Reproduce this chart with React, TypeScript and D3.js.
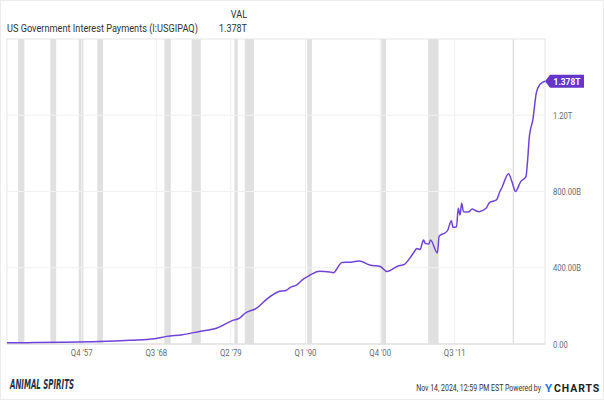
import * as d3 from "d3";
import React from "react";

// quarterly-ish readings of the series (billions of USD)
const dates = [
  "1947-04-01", "1950-01-01", "1955-01-01", "1960-07-01", "1965-01-01", "1968-07-01",
  "1970-04-01", "1972-07-01", "1975-01-01", "1977-07-01", "1979-10-01", "1980-10-01",
  "1981-07-01", "1983-04-01", "1984-10-01", "1986-04-01", "1987-07-01", "1988-01-01",
  "1989-01-01", "1989-10-01", "1990-10-01", "1992-04-01", "1993-10-01", "1994-04-01",
  "1995-07-01", "1996-10-01", "1998-01-01", "1999-07-01", "2001-01-01", "2002-01-01",
  "2003-07-01", "2004-07-01", "2005-04-01", "2006-01-01", "2006-04-01", "2006-10-01",
  "2007-04-01", "2007-07-01", "2008-01-01", "2008-04-01", "2009-04-01", "2009-07-01",
  "2010-01-01", "2010-04-01", "2010-10-01", "2011-04-01", "2011-07-01", "2012-01-01",
  "2012-04-01", "2012-07-01", "2012-10-01", "2013-01-01", "2013-10-01", "2014-04-01",
  "2014-10-01", "2015-04-01", "2016-04-01", "2016-10-01", "2017-10-01", "2018-04-01",
  "2018-07-01", "2019-07-01", "2020-01-01", "2020-07-01", "2021-04-01", "2022-01-01",
  "2022-04-01", "2022-07-01", "2023-01-01", "2023-07-01", "2024-01-01", "2024-09-30",
];
const valuesB = [
  6, 7, 9, 13, 20, 28,
  40, 49, 66, 84, 124, 136,
  160, 189, 238, 273, 282, 296,
  310, 335, 358, 382, 378, 374,
  428, 429, 436, 414, 407, 380,
  408, 418, 449, 489, 501, 496,
  545, 528, 524, 545, 478, 566,
  577, 580, 598, 647, 612, 615,
  712, 677, 738, 694, 693, 708,
  700, 694, 712, 742, 756, 800,
  817, 893, 850, 800, 852, 878,
  966, 1089, 1177, 1317, 1361, 1378,
];

const recessionStarts = [
  "1948-11-01", "1953-07-01", "1957-08-01", "1960-04-01", "1969-12-01", "1973-11-01",
  "1980-01-01", "1981-07-01", "1990-07-01", "2001-03-01", "2007-12-01", "2020-02-01",
];
const recessionEnds = [
  "1949-10-01", "1954-05-01", "1958-04-01", "1961-02-01", "1970-11-01", "1975-03-01",
  "1980-07-01", "1982-11-01", "1991-03-01", "2001-11-01", "2009-06-01", "2020-04-01",
];

const tickDates = ["1957-12-31", "1968-09-30", "1979-06-30", "1990-03-31", "2000-12-31", "2011-09-30"];
const tickLabels = ["Q4 '57", "Q3 '68", "Q2 '79", "Q1 '90", "Q4 '00", "Q3 '11"];

const yTicks = [0, 400, 800, 1200];
const yTickLabels = ["0.00", "400.00B", "800.00B", "1.20T"];

const parse = d3.timeParse("%Y-%m-%d");
const FONT = "Roboto, 'Noto Sans', sans-serif";

// narrow text, like the condensed face of the original
function T(props: {
  x: number;
  y: number;
  size: number;
  fill?: string;
  anchor?: "start" | "middle" | "end";
  weight?: string;
  sx?: number;
  spacing?: number;
  children: React.ReactNode;
}) {
  const sx = props.sx ?? 0.86;
  return (
    <text
      transform={`translate(${props.x},${props.y}) scale(${sx},1)`}
      fontSize={props.size}
      fill={props.fill ?? "#333"}
      textAnchor={props.anchor ?? "start"}
      fontWeight={props.weight ?? "normal"}
      letterSpacing={props.spacing ?? 0}
    >
      {props.children}
    </text>
  );
}

export default function App() {
  const W = 604;
  const H = 400;
  const left = 7, right = 545, top = 39, bottom = 344;

  const x = d3
    .scaleTime()
    .domain([parse("1947-03-31")!, parse("2024-09-30")!])
    .range([left, right]);
  const y = d3.scaleLinear().domain([0, 1600]).range([bottom, top]);

  const data = dates.map((d, i) => ({ date: parse(d)!, v: valuesB[i] }));
  const line = d3
    .line<{ date: Date; v: number }>()
    .x((d) => x(d.date))
    .y((d) => y(d.v))
    .curve(d3.curveMonotoneX);

  const last = data[data.length - 1];
  const ly = y(last.v);
  const lx = x(last.date);

  return (
    <svg
      width={W}
      height={H}
      style={{ position: "absolute", left: 0, top: 0, background: "#fff" }}
      fontFamily={FONT}
    >
      <rect x={0.5} y={0.5} width={W - 1} height={H - 1} fill="none" stroke="#ececec" />

      <T x={247} y={18} size={10.5} anchor="end">VAL</T>
      <T x={7} y={32} size={10.5} sx={0.875}>US Government Interest Payments (I:USGIPAQ)</T>
      <T x={247} y={32} size={10.5} anchor="end">1.378T</T>

      {recessionStarts.map((s, i) => {
        const x0 = x(parse(s)!);
        const x1 = x(parse(recessionEnds[i])!);
        return (
          <rect key={s} x={x0} y={top} width={Math.max(1.5, x1 - x0)} height={bottom - top} fill="#e0e0e0" />
        );
      })}

      {yTicks.slice(1).map((t) => (
        <line key={t} x1={left} x2={right} y1={y(t)} y2={y(t)} stroke="#f0f0f0" />
      ))}
      {tickDates.map((t) => (
        <line key={t} x1={x(parse(t)!)} x2={x(parse(t)!)} y1={top} y2={bottom} stroke="#f0f0f0" />
      ))}

      <rect x={left} y={top} width={right - left} height={bottom - top} fill="none" stroke="#e6e6e6" />
      <line x1={left} x2={right} y1={bottom} y2={bottom} stroke="#dcdcdc" />

      <path d={line(data) ?? ""} fill="none" stroke="#7044d8" strokeWidth={1.5} strokeLinejoin="round" />

      {yTicks.map((t, i) => (
        <T key={t} x={553} y={y(t) + 3.5} size={9.5} fill="#6b6b6b" sx={0.8}>{yTickLabels[i]}</T>
      ))}
      {tickDates.map((t, i) => (
        <T key={t} x={x(parse(t)!)} y={356} size={9.5} anchor="middle" fill="#6b6b6b" sx={0.82}>
          {tickLabels[i]}
        </T>
      ))}

      <path
        d={`M${lx},${ly} L${lx + 5},${ly - 6.5} L${lx + 39},${ly - 6.5} L${lx + 39},${ly + 6.5} L${lx + 5},${ly + 6.5} Z`}
        fill="#6536c9"
      />
      <T x={lx + 22} y={ly + 3.3} size={9.5} anchor="middle" weight="bold" fill="#fff" sx={0.88}>1.378T</T>

      <text
        x={10}
        y={389}
        fontSize={14}
        fontStyle="italic"
        fontWeight="bold"
        fill="#1f3450"
        fontFamily="'DejaVu Sans Condensed', sans-serif"
        textLength={64}
        lengthAdjust="spacingAndGlyphs"
      >
        ANIMAL SPIRITS
      </text>

      <T x={541} y={391} size={8.5} anchor="end" fill="#333" sx={0.82}>
        Nov 14, 2024, 12:59 PM EST Powered by
      </T>
      <text x={545} y={392} fontSize={11.5} fontWeight="bold" fill="#1a73e8">Y</text>
      <T x={554} y={392} size={11} weight="bold" fill="#222" sx={0.95} spacing={1}>CHARTS</T>
    </svg>
  );
}
